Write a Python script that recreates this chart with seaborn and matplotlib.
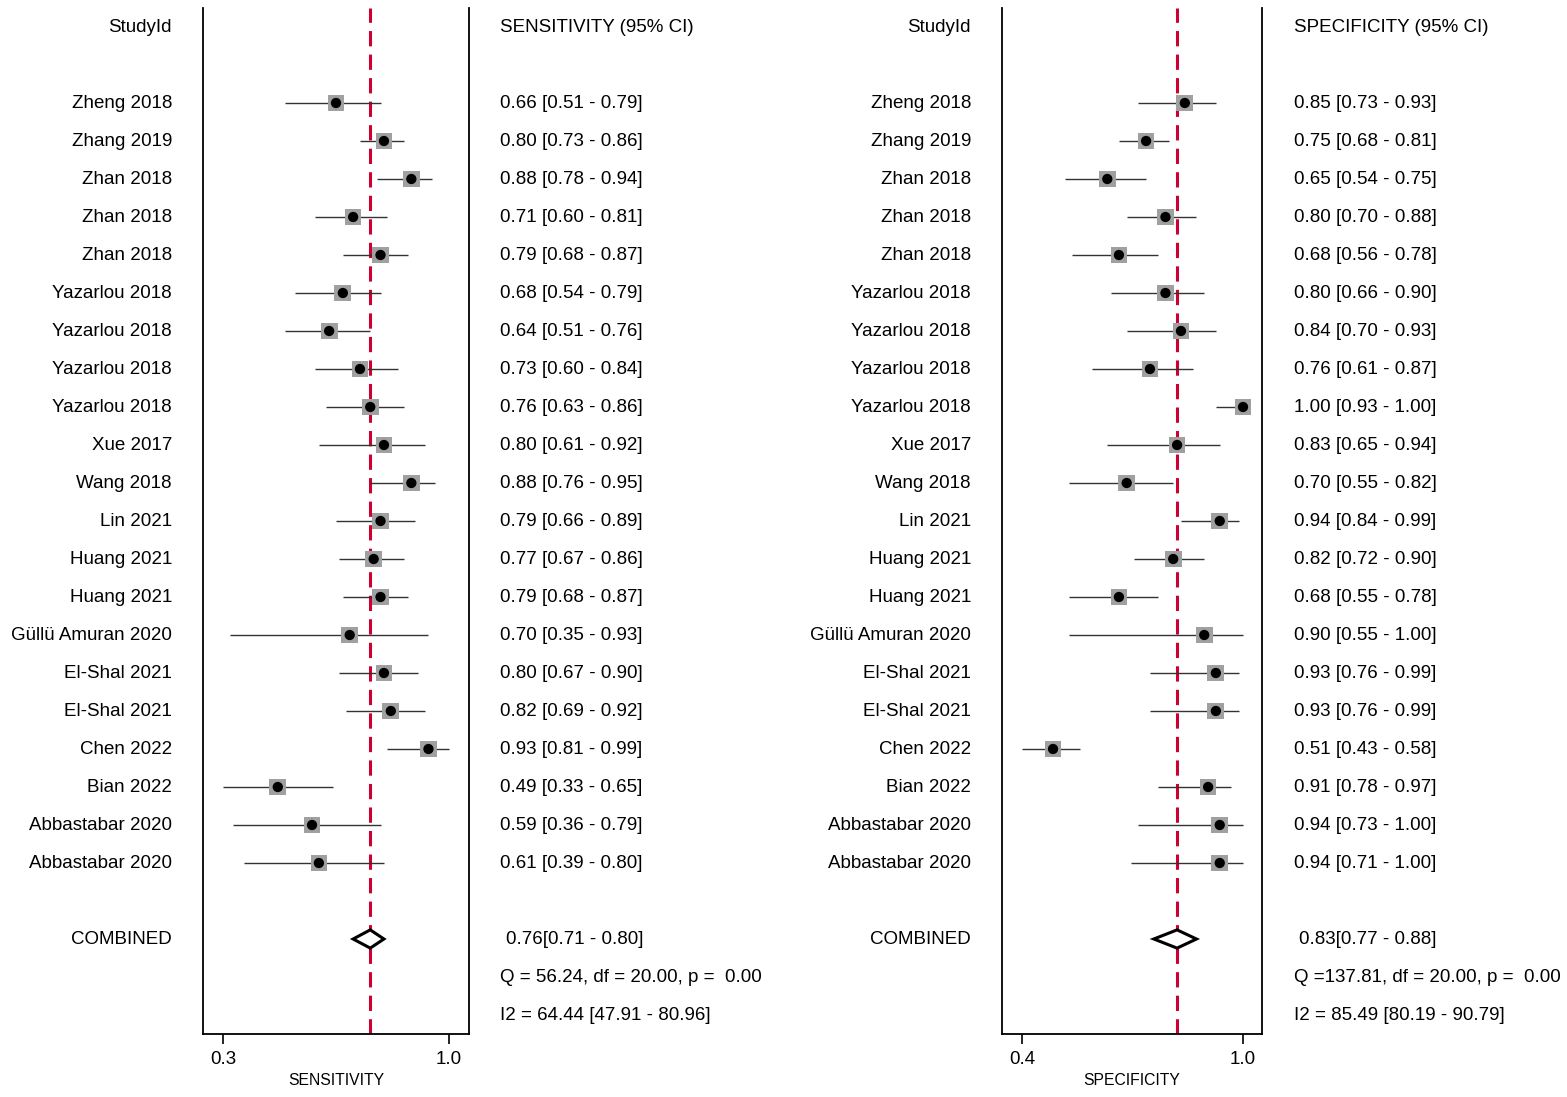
import matplotlib
matplotlib.use("Agg")
import matplotlib.pyplot as plt
import matplotlib.transforms as mtransforms
from matplotlib.patches import Polygon
import seaborn as sns
import pandas as pd

# Data

studies = ["Zheng 2018", "Zhang 2019", "Zhan 2018", "Zhan 2018", "Zhan 2018",
           "Yazarlou 2018", "Yazarlou 2018", "Yazarlou 2018", "Yazarlou 2018",
           "Xue 2017", "Wang 2018", "Lin 2021", "Huang 2021", "Huang 2021",
           "Güllü Amuran 2020", "El-Shal 2021", "El-Shal 2021", "Chen 2022",
           "Bian 2022", "Abbastabar 2020", "Abbastabar 2020"]

sens = [0.66, 0.80, 0.88, 0.71, 0.79, 0.68, 0.64, 0.73, 0.76, 0.80, 0.88,
        0.79, 0.77, 0.79, 0.70, 0.80, 0.82, 0.93, 0.49, 0.59, 0.61]
sens_lo = [0.51, 0.73, 0.78, 0.60, 0.68, 0.54, 0.51, 0.60, 0.63, 0.61, 0.76,
           0.66, 0.67, 0.68, 0.35, 0.67, 0.69, 0.81, 0.33, 0.36, 0.39]
sens_hi = [0.79, 0.86, 0.94, 0.81, 0.87, 0.79, 0.76, 0.84, 0.86, 0.92, 0.95,
           0.89, 0.86, 0.87, 0.93, 0.90, 0.92, 0.99, 0.65, 0.79, 0.80]

spec = [0.85, 0.75, 0.65, 0.80, 0.68, 0.80, 0.84, 0.76, 1.00, 0.83, 0.70,
        0.94, 0.82, 0.68, 0.90, 0.93, 0.93, 0.51, 0.91, 0.94, 0.94]
spec_lo = [0.73, 0.68, 0.54, 0.70, 0.56, 0.66, 0.70, 0.61, 0.93, 0.65, 0.55,
           0.84, 0.72, 0.55, 0.55, 0.76, 0.76, 0.43, 0.78, 0.73, 0.71]
spec_hi = [0.93, 0.81, 0.75, 0.88, 0.78, 0.90, 0.93, 0.87, 1.00, 0.94, 0.82,
           0.99, 0.90, 0.78, 1.00, 0.99, 0.99, 0.58, 0.97, 1.00, 1.00]

sens_pooled = (0.76, 0.71, 0.80)
spec_pooled = (0.83, 0.77, 0.88)
sens_q = "Q = 56.24, df = 20.00, p =  0.00"
sens_i2 = "I2 = 64.44 [47.91 - 80.96]"
spec_q = "Q =137.81, df = 20.00, p =  0.00"
spec_i2 = "I2 = 85.49 [80.19 - 90.79]"

# Setup

sns.set_style("white", rc={"text.color": "black", "xtick.color": "black",
                           "axes.labelcolor": "black"})
plt.rcParams["font.family"] = ["Liberation Sans", "DejaVu Sans"]

W, H = 1567, 1097
fig = plt.figure(figsize=(W / 100, H / 100), dpi=100)

FS = 13.5
rows = list(range(2, 2 + len(studies)))
ROW_COMB = 2 + len(studies) + 1


def draw_panel(ax, name, est, lo, hi, pooled, qtxt, i2txt, xlim,
               lab_x, val_x, comb_x):
    df = pd.DataFrame({"row": rows, "est": est, "lo": lo, "hi": hi})
    ax.hlines(df["row"], df["lo"], df["hi"], color="#333333", lw=1.0, zorder=2)
    sns.scatterplot(data=df, x="est", y="row", marker="s", s=145,
                    color="#a0a0a0", edgecolor="none", ax=ax, zorder=3)
    sns.scatterplot(data=df, x="est", y="row", marker="o", s=55,
                    color="black", edgecolor="none", ax=ax, zorder=4)

    p, plo, phi = pooled
    h = 0.24
    ax.add_patch(Polygon([(plo, ROW_COMB), (p, ROW_COMB - h), (phi, ROW_COMB),
                          (p, ROW_COMB + h)], closed=True, facecolor="white",
                         edgecolor="black", lw=2.2, zorder=5))
    ax.axvline(p, color="#cc0033", lw=2.2, dashes=(5, 2.7), zorder=1)

    ax.set_xlim(*xlim)
    ax.set_ylim(26.5, -0.5)
    ax.set_yticks([])
    tick_lo, tick_hi = min(lo), max(hi)
    ax.set_xticks([tick_lo, tick_hi])
    ax.set_xticklabels([f"{tick_lo:.1f}", f"{tick_hi:.1f}"], fontsize=FS)
    ax.tick_params(axis="x", direction="out", length=7, width=1.2,
                   pad=5.5, bottom=True, colors="black")
    ax.set_xlabel(name, fontsize=11.3, labelpad=3)
    ax.set_ylabel("")
    for side in ["left", "right", "bottom"]:
        ax.spines[side].set_visible(True)
        ax.spines[side].set_color("black")
        ax.spines[side].set_linewidth(1.3)
    ax.spines["top"].set_visible(False)

    tr = mtransforms.blended_transform_factory(fig.transFigure, ax.transData)
    fig.text(lab_x / W, 0, "StudyId", ha="right", va="center", fontsize=FS,
             transform=tr)
    fig.text(val_x / W, 0, f"{name} (95% CI)", ha="left", va="center",
             fontsize=FS, transform=tr)
    for r, s, e, l, u in zip(rows, studies, est, lo, hi):
        fig.text(lab_x / W, r, s, ha="right", va="center", fontsize=FS,
                 transform=tr)
        fig.text(val_x / W, r, f"{e:.2f} [{l:.2f} - {u:.2f}]", ha="left",
                 va="center", fontsize=FS, transform=tr)
    fig.text(lab_x / W, ROW_COMB, "COMBINED", ha="right", va="center",
             fontsize=FS, transform=tr)
    fig.text(comb_x / W, ROW_COMB, f"{p:.2f}[{plo:.2f} - {phi:.2f}]",
             ha="left", va="center", fontsize=FS, transform=tr)
    fig.text(val_x / W, ROW_COMB + 1, qtxt, ha="left", va="center",
             fontsize=FS, transform=tr)
    fig.text(val_x / W, ROW_COMB + 2, i2txt, ha="left", va="center",
             fontsize=FS, transform=tr)


bottom = (H - 1034) / H
height = (1034 - 8) / H
ax1 = fig.add_axes([203 / W, bottom, (469 - 203) / W, height])
ax2 = fig.add_axes([1002 / W, bottom, (1262 - 1002) / W, height])

draw_panel(ax1, "SENSITIVITY", sens, sens_lo, sens_hi, sens_pooled,
           sens_q, sens_i2, (0.2716, 1.0484), 172, 500, 506)
draw_panel(ax2, "SPECIFICITY", spec, spec_lo, spec_hi, spec_pooled,
           spec_q, spec_i2, (0.3784, 1.049), 971, 1294, 1299)

fig.savefig("out.png", dpi=100)
